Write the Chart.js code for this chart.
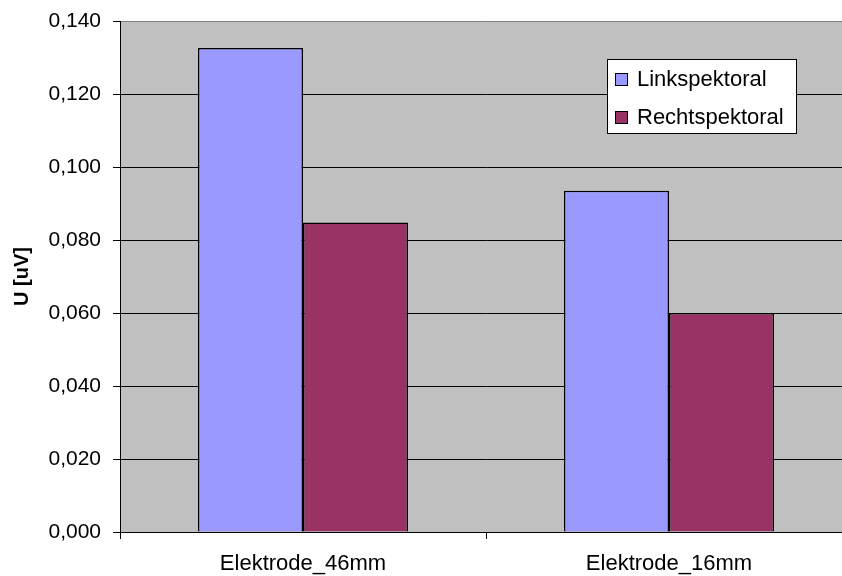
<!DOCTYPE html>
<html>
<head>
    <title>Elektroden</title>
    <script src="https://cdn.jsdelivr.net/npm/chart.js"></script>
    <style>
        body { margin: 0; background: #fff; overflow: hidden; }
        #wrap { width: 862px; height: 576px; }
    </style>
</head>
<body>
    <div id="wrap"><canvas id="chart" width="862" height="576"></canvas></div>

    <script>
        const categories = ['Elektrode_46mm', 'Elektrode_16mm'];
        const linkValues = [0.1326, 0.0935];
        const rechtValues = [0.0848, 0.0600];
        const yTicks = [0, 0.02, 0.04, 0.06, 0.08, 0.10, 0.12, 0.14];

        const FONT = "'Liberation Sans', Arial, sans-serif";

        // gray plot background
        const plotBg = {
            id: 'plotBg',
            beforeDraw(chart) {
                const {ctx, chartArea: a} = chart;
                ctx.save();
                ctx.fillStyle = '#c0c0c0';
                ctx.fillRect(a.left, a.top, a.right - a.left, a.bottom - a.top);
                ctx.restore();
            }
        };

        // boxed legend inside the plot
        const boxLegend = {
            id: 'boxLegend',
            afterDraw(chart) {
                const ctx = chart.ctx;
                const x = 607, y = 59, w = 189, h = 74;
                ctx.save();
                ctx.fillStyle = '#fff';
                ctx.fillRect(x, y, w, h);
                ctx.strokeStyle = '#000';
                ctx.lineWidth = 1;
                ctx.strokeRect(x + 0.5, y + 0.5, w, h);
                ctx.font = '22px ' + FONT;
                ctx.textBaseline = 'middle';
                chart.data.datasets.forEach((ds, i) => {
                    const cy = 79 + i * 38;
                    ctx.fillStyle = ds.backgroundColor;
                    ctx.fillRect(615, cy - 6, 12, 12);
                    ctx.strokeRect(615.5, cy - 5.5, 12, 12);
                    ctx.fillStyle = '#000';
                    ctx.fillText(ds.label, 637, cy + 1);
                });
                ctx.restore();
            }
        };

        new Chart(document.getElementById('chart'), {
            type: 'bar',
            data: {
                labels: categories,
                datasets: [
                    {
                        label: 'Linkspektoral',
                        data: linkValues,
                        backgroundColor: '#9999ff',
                        borderColor: '#000',
                        borderWidth: 1.5
                    },
                    {
                        label: 'Rechtspektoral',
                        data: rechtValues,
                        backgroundColor: '#993366',
                        borderColor: '#000',
                        borderWidth: 1.5
                    }
                ]
            },
            options: {
                responsive: false,
                animation: false,
                layout: { padding: { top: 21, right: 10, bottom: 0, left: 0 } },
                datasets: { bar: { categoryPercentage: 0.574, barPercentage: 1 } },
                plugins: {
                    legend: { display: false },
                    tooltip: { enabled: false }
                },
                scales: {
                    x: {
                        afterFit(scale) { scale.height = 44; },
                        grid: {
                            offset: true,
                            drawOnChartArea: false,
                            color: '#000',
                            tickLength: 7
                        },
                        border: { color: '#000' },
                        ticks: {
                            color: '#000',
                            padding: 12,
                            font: { family: FONT, size: 22 }
                        }
                    },
                    y: {
                        min: 0,
                        max: 0.14,
                        afterFit(scale) {
                            scale.width = 120;
                            scale.paddingTop = 0;
                            scale.paddingBottom = 0;
                        },
                        afterBuildTicks(scale) {
                            scale.ticks = yTicks.map(v => ({ value: v }));
                        },
                        grid: {
                            color: c => (c.tick && c.tick.value >= 0.14 ? '#808080' : '#000'),
                            tickColor: '#000',
                            tickLength: 7
                        },
                        border: { color: '#000' },
                        ticks: {
                            color: '#000',
                            padding: 12,
                            font: { family: FONT, size: 21 },
                            callback: v => v.toFixed(3).replace('.', ',')
                        },
                        title: {
                            display: true,
                            text: 'U [uV]',
                            color: '#000',
                            padding: { top: 10, bottom: 0 },
                            font: { family: FONT, size: 20, weight: 'bold' }
                        }
                    }
                }
            },
            plugins: [plotBg, boxLegend]
        });
    </script>
</body>
</html>
